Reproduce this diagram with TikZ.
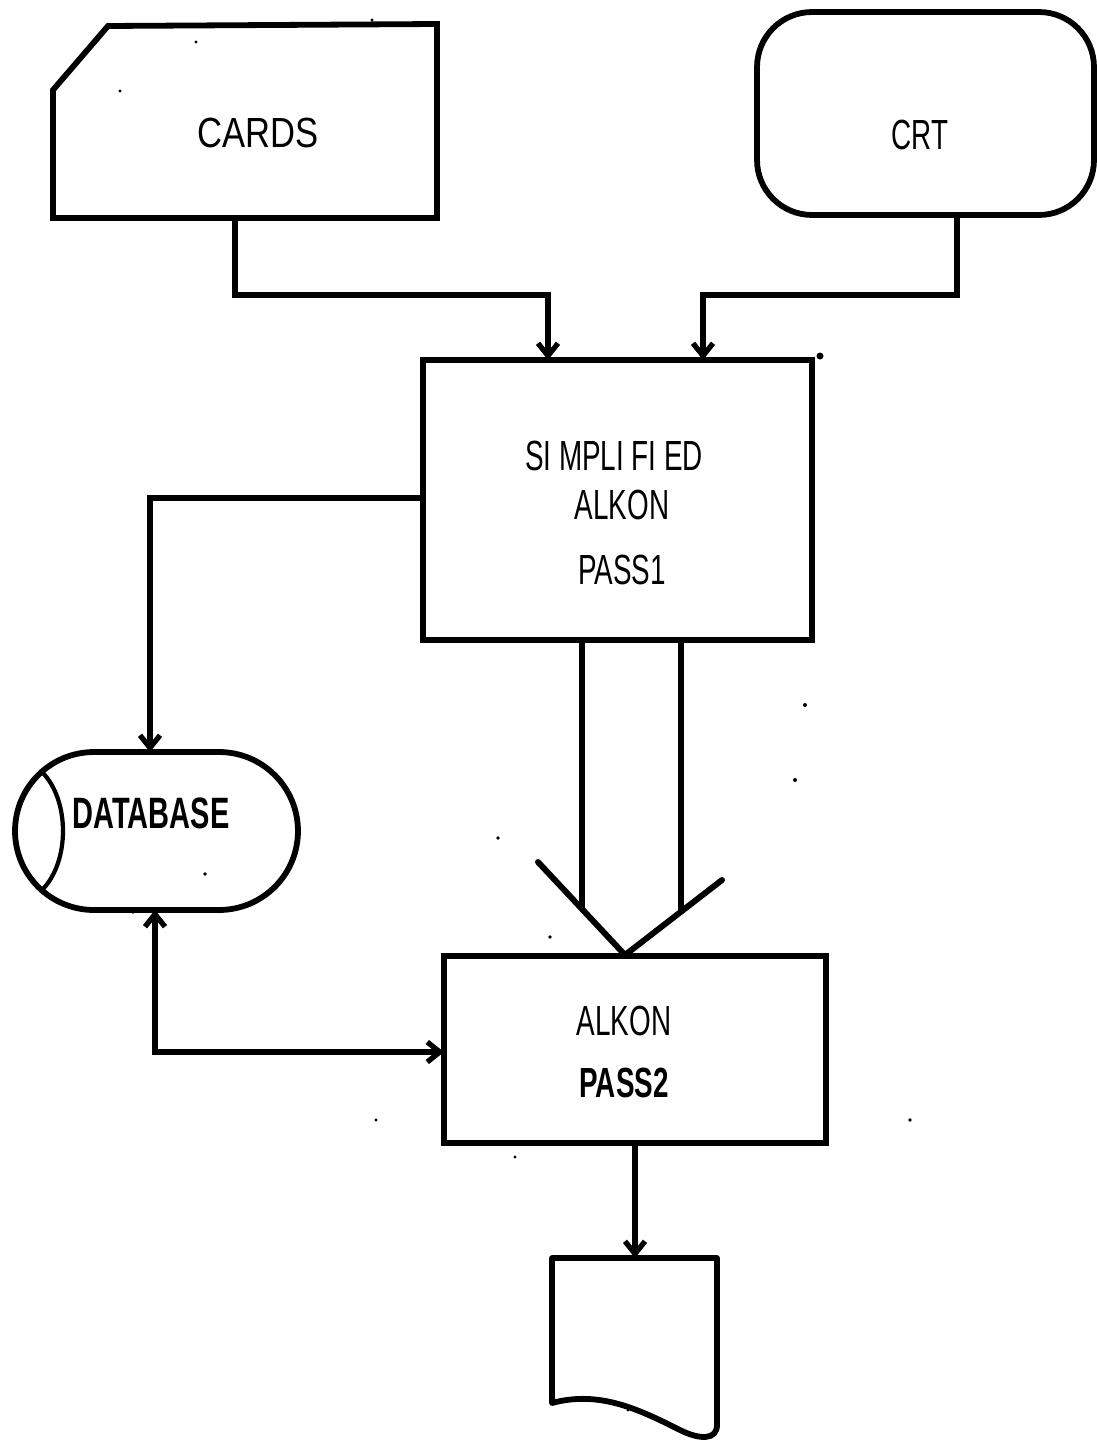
\documentclass[tikz,border=0pt]{standalone}
\usepackage{fontspec}
\setmainfont{Liberation Sans}
\newfontfamily\condfont[FakeStretch=0.66]{Liberation Sans}
\newfontfamily\cardfont[FakeStretch=0.82]{Liberation Sans}
\usetikzlibrary{arrows.meta}
\tikzset{
  shapeline/.style={draw=black, line width=3.3pt, line join=miter},
  conn/.style={draw=black, line width=3.4pt},
  tip/.tip={Straight Barb[length=2.5mm,width=4mm,line width=3pt]},
  arr/.style={conn, -tip},
  barr/.style={conn, tip-tip},
  lbl/.style={inner sep=0pt, font=\condfont\fontsize{24}{28}\selectfont},
  speck/.style={fill=black}
}
\begin{document}
\begin{tikzpicture}[x=0.02cm, y=-0.02cm]
\useasboundingbox (0,0) rectangle (1096,1440);

% CARDS (punched card)
\draw[shapeline] (108,26) -- (437,24) -- (437,218) -- (53,218) -- (53,90) -- cycle;
\node[lbl, font=\cardfont\fontsize{24}{28}\selectfont] (cards) at (258,133) {CARDS};
\coordinate (cardsOut) at (235,218);

% CRT (display)
\node[shapeline, rounded corners=1.1cm, minimum width=6.74cm, minimum height=4.06cm] (crt) at (925.5,113.5) {};
\node[lbl] (crtT) at (920,135) {CRT};
\coordinate (crtOut) at (957,215);

% PASS1 box
\node[shapeline, minimum width=7.78cm, minimum height=5.6cm] (pass1) at (617.5,500) {};
\node[lbl] (t1) at (614,456) {SI MPLI FI ED};
\node[lbl] (t2) at (622,505) {ALKON};
\node[lbl] (t3) at (622,570) {PASS1};
\coordinate (p1inA) at (548,360);
\coordinate (p1inB) at (703,360);
\coordinate (p1west) at (423,498);
\coordinate (p1outA) at (582,640);
\coordinate (p1outB) at (681,640);

% DATABASE (stored data)
\node[shapeline, rounded corners=1.58cm, minimum width=5.66cm, minimum height=3.16cm] (db) at (156.5,831) {};
\draw[conn, line width=2.4pt] (42,772) .. controls (70,800) and (70,862) .. (42,890);
\node[lbl, font=\condfont\bfseries\fontsize{25}{28}\selectfont] (dbT) at (151,813) {DATABASE};
\coordinate (dbTop) at (150,752);
\coordinate (dbBot) at (155,910);

% PASS2 box
\node[shapeline, minimum width=7.64cm, minimum height=3.74cm] (pass2) at (635,1049.5) {};
\node[lbl] (t4) at (624,1021) {ALKON};
\node[lbl, font=\condfont\bfseries\fontsize{24}{28}\selectfont] (t5) at (624,1083) {PASS2};
\coordinate (p2west) at (444,1052);
\coordinate (p2apex) at (625,955);
\coordinate (p2out) at (635,1143);

% Document
\draw[shapeline, line join=round] (552,1258) -- (717,1258) -- (717,1425)
  .. controls (717,1440) and (700,1440) .. (680,1430)
  .. controls (640,1410) and (600,1390) .. (552,1403) -- cycle;
\coordinate (docIn) at (635,1258);

% Connectors
\draw[arr] (cardsOut) -- (235,295) -| (p1inA);
\draw[arr] (crtOut) -- (957,295) -| (p1inB);
\draw[arr] (p1west) -| (dbTop);
\draw[barr] (dbBot) |- (p2west);
\draw[arr] (p2out) -- (docIn);

% broad arrow from PASS1 to PASS2
\draw[conn] (p1outA) -- (582,908);
\draw[conn] (p1outB) -- (681,911);
\draw[conn, line join=miter, line cap=round] (538,862) -- (p2apex) -- (722,880);

% specks of the original scan
\fill[speck] (820,356) circle (3.5);
\fill[speck] (805,705) circle (2);
\fill[speck] (795,780) circle (2);
\fill[speck] (498,838) circle (1.8);
\fill[speck] (205,874) circle (1.8);
\fill[speck] (550,937) circle (1.8);
\fill[speck] (133,912) circle (1.8);
\fill[speck] (376,1120) circle (1.6);
\fill[speck] (910,1120) circle (1.8);
\fill[speck] (515,1157) circle (1.6);
\fill[speck] (628,1410) circle (1.6);
\fill[speck] (372,20) circle (1.6);
\fill[speck] (120,91) circle (1.6);
\fill[speck] (196,42) circle (1.6);
\end{tikzpicture}
\end{document}
